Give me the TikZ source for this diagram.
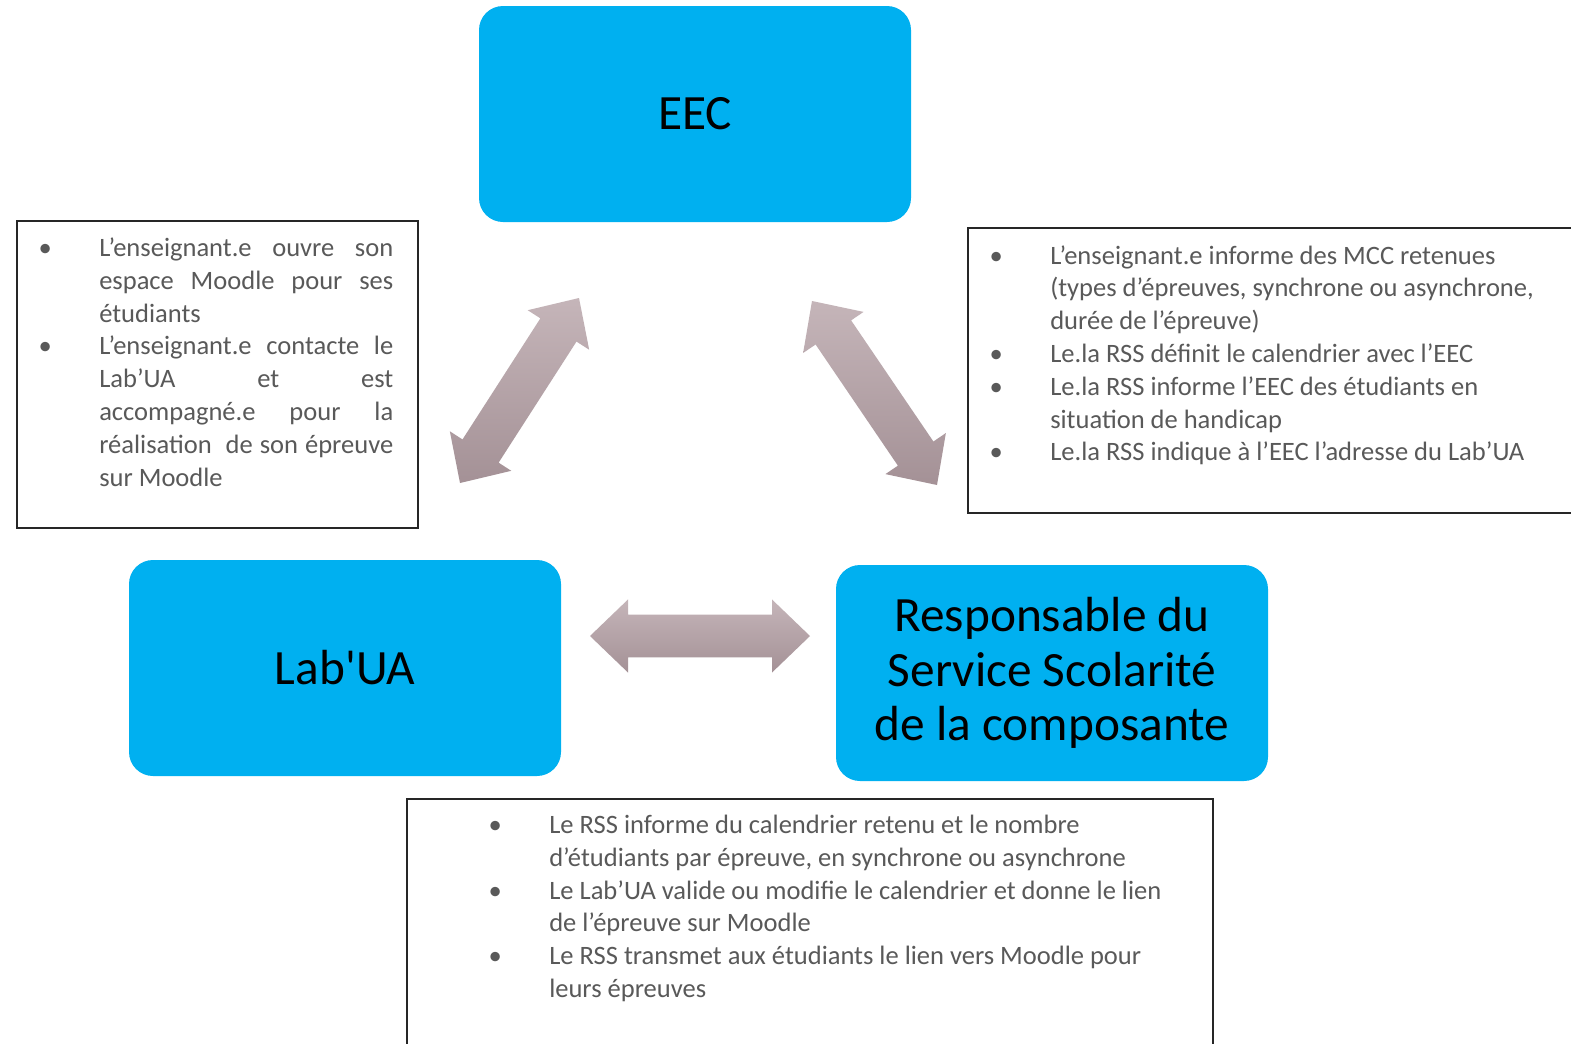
\documentclass[tikz,border=0pt]{standalone}
\usepackage{fontspec}
\setmainfont{Carlito}[Ligatures=TeXOff]
\usetikzlibrary{calc}
\definecolor{boxblue}{RGB}{0,176,240}
\definecolor{txtgray}{RGB}{89,89,89}
\definecolor{arrtop}{RGB}{197,181,185}
\definecolor{arrbot}{RGB}{164,145,150}
\newcommand{\bul}{\llap{\makebox[0pt][c]{•}\hspace{40.5pt}}}
\newcommand{\jline}[1]{\makebox[220.5pt][s]{#1}}
\newcommand{\dblarr}[2]{%
 \path[dblarrow] (#1) -- ($(#1)!28.5pt!(#2)!27.4pt!90:(#2)$) -- ($(#1)!28.5pt!(#2)!16.1pt!90:(#2)$)
   -- ($(#2)!28.5pt!(#1)!16.1pt!-90:(#1)$) -- ($(#2)!28.5pt!(#1)!27.4pt!-90:(#1)$) -- (#2)
   -- ($(#2)!28.5pt!(#1)!27.4pt!90:(#1)$) -- ($(#2)!28.5pt!(#1)!16.1pt!90:(#1)$)
   -- ($(#1)!28.5pt!(#2)!16.1pt!-90:(#2)$) -- ($(#1)!28.5pt!(#2)!27.4pt!-90:(#2)$) -- cycle;}
\begin{document}
\begin{tikzpicture}[x=0.75pt,y=-0.75pt,
  bigbox/.style={draw=none, fill=boxblue, rounded corners=18pt, minimum width=324pt,
    minimum height=162pt, font=\fontsize{37pt}{40.9pt}\selectfont, align=center, inner sep=0pt},
  frame/.style={draw=black!85, line width=1.5pt, anchor=north west, inner sep=0pt},
  listtext/.style={anchor=base west, inner sep=0pt, text=txtgray,
    font=\fontsize{19.9pt}{24.6pt}\selectfont},
  dblarrow/.style={top color=arrtop, bottom color=arrbot, draw=none}]
\useasboundingbox (0,0) rectangle (1571,1043);
\clip (0,0) rectangle (1571,1043);
\fill[white] (0,0) rectangle (1571,1043);

% frames
\node[frame, minimum width=300.75pt, minimum height=230.25pt] (lframe) at (16,220) {};
\node[frame, minimum width=474.75pt, minimum height=213.75pt] (rframe) at (967,227) {};
\node[frame, minimum width=604.5pt, minimum height=204pt] (bframe) at (406,798) {};

% blue boxes
\node[bigbox] (eec) at (695,114) {EEC};
\node[bigbox] (lab) at (345,668) {Lab'UA};
\node[bigbox] (rss) at (1052,673) {Responsable du\\Service Scolarité\\de la composante};

% double arrows
\coordinate (la1) at (460,483);
\coordinate (la2) at (579,298);
\coordinate (ra1) at (812,301);
\coordinate (ra2) at (937,485);
\coordinate (ha1) at (590,636);
\coordinate (ha2) at (810,636);
\dblarr{la1}{la2}
\dblarr{ra1}{ra2}
\dblarr{ha1}{ha2}

% list texts
\node[listtext] (ltext) at (99,256.5) {\begin{tabular}[t]{@{}l@{}}
\bul\jline{L’enseignant.e ouvre son}\\
\jline{espace Moodle pour ses}\\
étudiants\\
\bul\jline{L’enseignant.e contacte le}\\
\jline{Lab’UA et est}\\
\jline{accompagné.e pour la}\\
\jline{réalisation \ de son épreuve}\\
sur Moodle
\end{tabular}};

\node[listtext] (rtext) at (1050,264) {\begin{tabular}[t]{@{}l@{}}
\bul L’enseignant.e informe des MCC retenues\\
(types d’épreuves, synchrone ou asynchrone,\\
durée de l’épreuve)\\
\bul Le.la RSS définit le calendrier avec l’EEC\\
\bul Le.la RSS informe l’EEC des étudiants en\\
situation de handicap\\
\bul Le.la RSS indique à l’EEC l’adresse du Lab’UA
\end{tabular}};

\node[listtext] (btext) at (549,833.5) {\begin{tabular}[t]{@{}l@{}}
\bul Le RSS informe du calendrier retenu et le nombre\\
d’étudiants par épreuve, en synchrone ou asynchrone\\
\bul Le Lab’UA valide ou modifie le calendrier et donne le lien\\
de l’épreuve sur Moodle\\
\bul Le RSS transmet aux étudiants le lien vers Moodle pour\\
leurs épreuves
\end{tabular}};
\end{tikzpicture}
\end{document}
